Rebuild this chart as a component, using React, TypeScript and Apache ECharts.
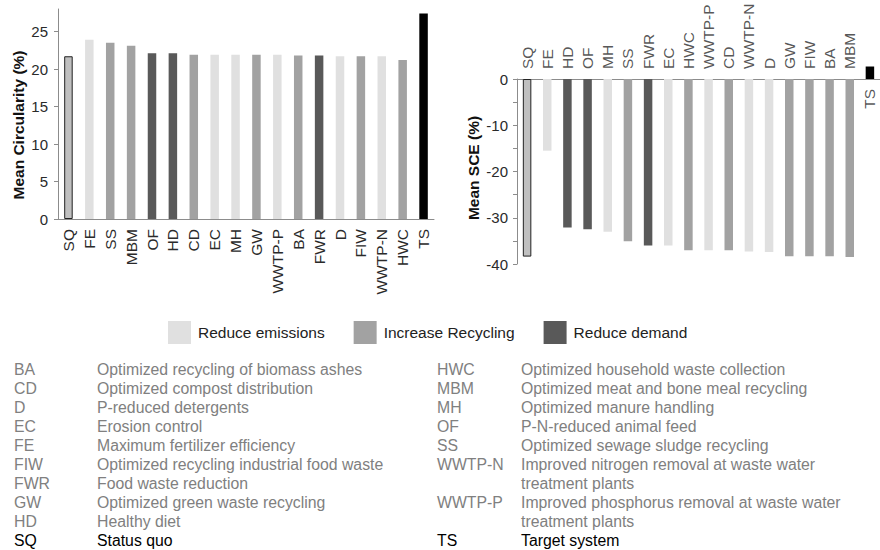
import React, { useEffect, useRef } from 'react';
import * as echarts from 'echarts';

// ---- Data ----
const circCategories = ['SQ', 'FE', 'SS', 'MBM', 'OF', 'HD', 'CD', 'EC', 'MH', 'GW', 'WWTP-P', 'BA', 'FWR', 'D', 'FIW', 'WWTP-N', 'HWC', 'TS'];
const circValues = [21.7, 23.9, 23.5, 23.1, 22.1, 22.1, 21.9, 21.9, 21.9, 21.9, 21.9, 21.8, 21.8, 21.7, 21.7, 21.7, 21.2, 27.4];
const circTicks = [0, 5, 10, 15, 20, 25];

const sceCategories = ['SQ', 'FE', 'HD', 'OF', 'MH', 'SS', 'FWR', 'EC', 'HWC', 'WWTP-P', 'CD', 'WWTP-N', 'D', 'GW', 'FIW', 'BA', 'MBM', 'TS'];
const sceValues = [-38.4, -15.5, -32.1, -32.5, -33.0, -35.1, -36.0, -36.0, -37.0, -37.0, -37.0, -37.3, -37.4, -38.3, -38.3, -38.3, -38.5, 2.7];

const groupNames = ['Reduce emissions', 'Increase Recycling', 'Reduce demand'];
const emissionMeasures = ['FE', 'EC', 'MH', 'WWTP-P', 'D', 'WWTP-N'];
const recyclingMeasures = ['SS', 'MBM', 'CD', 'GW', 'BA', 'FIW', 'HWC'];
const demandMeasures = ['OF', 'HD', 'FWR'];

const glossaryLeftCodes = ['BA', 'CD', 'D', 'EC', 'FE', 'FIW', 'FWR', 'GW', 'HD', 'SQ'];
const glossaryLeftTexts = [
  'Optimized recycling of biomass ashes',
  'Optimized compost distribution',
  'P-reduced detergents',
  'Erosion control',
  'Maximum fertilizer efficiency',
  'Optimized recycling industrial food waste',
  'Food waste reduction',
  'Optimized green waste recycling',
  'Healthy diet',
  'Status quo',
];
const glossaryRightCodes = ['HWC', 'MBM', 'MH', 'OF', 'SS', 'WWTP-N', 'WWTP-P', 'TS'];
const glossaryRightTexts = [
  'Optimized household waste collection',
  'Optimized meat and bone meal recycling',
  'Optimized manure handling',
  'P-N-reduced animal feed',
  'Optimized sewage sludge recycling',
  'Improved nitrogen removal at waste water\ntreatment plants',
  'Improved phosphorus removal at waste water\ntreatment plants',
  'Target system',
];
const referenceCodes = ['SQ', 'TS'];

// ---- Styles ----
const FONT = '"Liberation Sans", Arial, sans-serif';
const groupColors = ['#e0e0e0', '#a2a2a2', '#595959'];
const AXIS_COLOR = '#8c8c8c';
const LABEL_COLOR = '#2a2a2a';
const GLOSS_GRAY = '#808080';

function itemStyleFor(code: string) {
  if (code === 'SQ') return { color: '#c0c0c0', borderColor: '#222', borderWidth: 1 };
  if (code === 'TS') return { color: '#000000' };
  if (emissionMeasures.includes(code)) return { color: groupColors[0] };
  if (recyclingMeasures.includes(code)) return { color: groupColors[1] };
  if (demandMeasures.includes(code)) return { color: groupColors[2] };
  return { color: '#999' };
}

function buildGlossary(codes: string[], texts: string[], codeX: number, textX: number) {
  const els: any[] = [];
  let row = 0;
  const top = 369;
  const step = 19;
  codes.forEach((code, i) => {
    const isRef = referenceCodes.includes(code);
    const fill = isRef ? '#000' : GLOSS_GRAY;
    const y = top + row * step;
    els.push({
      type: 'text', x: codeX, y, silent: true,
      style: { text: code, font: `15.8px ${FONT}`, fill, verticalAlign: 'middle', align: 'left' },
    });
    els.push({
      type: 'text', x: textX, y: y - step / 2, silent: true,
      style: { text: texts[i], font: `15.8px ${FONT}`, fill, verticalAlign: 'top', align: 'left', lineHeight: step },
    });
    row += texts[i].split('\n').length;
  });
  return els;
}

export default function App() {
  const ref = useRef<HTMLDivElement>(null);

  useEffect(() => {
    document.body.style.margin = '0';
    if (!ref.current) return;
    const chart = echarts.init(ref.current, undefined, { renderer: 'svg' });

    const option: any = {
      animation: false,
      textStyle: { fontFamily: FONT },
      grid: [
        { left: 58, right: 446, top: 9, bottom: 331, containLabel: false },
        { left: 517, right: -5, top: 79, bottom: 286, containLabel: false },
      ],
      legend: {
        left: 163,
        top: 316,
        icon: 'rect',
        itemWidth: 23,
        itemHeight: 23,
        itemGap: 29,
        selectedMode: false,
        data: groupNames,
        textStyle: { fontSize: 15.5, color: '#222', fontFamily: FONT, padding: [0, 0, 0, 2] },
      },
      xAxis: [
        {
          type: 'category', gridIndex: 0, data: circCategories,
          axisLine: { lineStyle: { color: AXIS_COLOR } },
          axisTick: { length: 4, lineStyle: { color: AXIS_COLOR } },
          axisLabel: { rotate: 90, margin: 10, fontSize: 15.5, color: LABEL_COLOR, interval: 0 },
        },
        {
          type: 'category', gridIndex: 1, data: sceCategories, position: 'bottom',
          axisLine: { onZero: true, lineStyle: { color: AXIS_COLOR } },
          axisTick: { length: 4, lineStyle: { color: AXIS_COLOR } },
          axisLabel: { show: false },
        },
      ],
      yAxis: [
        {
          type: 'value', gridIndex: 0, min: 0, max: 28, interval: 5,
          splitLine: { show: false },
          axisLine: { show: true, lineStyle: { color: AXIS_COLOR } },
          axisTick: { show: true, length: 4, lineStyle: { color: AXIS_COLOR }, customValues: circTicks },
          axisLabel: { fontSize: 15, color: LABEL_COLOR, margin: 10, customValues: circTicks },
        },
        {
          type: 'value', gridIndex: 1, min: -40, max: 0, interval: 10,
          splitLine: { show: false },
          axisLine: { show: true, lineStyle: { color: AXIS_COLOR } },
          axisTick: { show: true, length: 4, lineStyle: { color: AXIS_COLOR } },
          minorTick: { show: true, splitNumber: 2, length: 4, lineStyle: { color: AXIS_COLOR } },
          axisLabel: { fontSize: 15, color: LABEL_COLOR, margin: 9 },
        },
      ],
      series: [
        {
          type: 'bar', name: 'circularity', xAxisIndex: 0, yAxisIndex: 0, barWidth: 8.5, silent: true,
          data: circValues.map((v, i) => ({ value: v, itemStyle: itemStyleFor(circCategories[i]) })),
        },
        {
          type: 'bar', name: 'sce', xAxisIndex: 1, yAxisIndex: 1, barWidth: 8.5, silent: true, clip: false,
          data: sceValues.map((v, i) => ({ value: v, itemStyle: itemStyleFor(sceCategories[i]) })),
        },
        {
          type: 'scatter', name: 'sceLabels', xAxisIndex: 1, yAxisIndex: 1, symbolSize: 0, silent: true, clip: false,
          data: sceCategories.map((c, i) => {
            const positive = sceValues[i] >= 0;
            return {
              value: [c, 0],
              label: {
                show: true,
                formatter: c,
                position: positive ? 'bottom' : 'top',
                distance: 10,
                rotate: 90,
                align: positive ? 'right' : 'left',
                verticalAlign: 'middle',
                fontSize: 15.5,
                color: LABEL_COLOR,
                fontFamily: FONT,
              },
            };
          }),
        },
        ...groupNames.map((g, i) => ({
          type: 'line', name: g, xAxisIndex: 0, yAxisIndex: 0, data: [],
          itemStyle: { color: groupColors[i] }, lineStyle: { color: groupColors[i] },
        })),
      ],
      graphic: [
        {
          type: 'text', x: 18, y: 125, rotation: Math.PI / 2, silent: true,
          style: { text: 'Mean Circularity (%)', font: `bold 15.5px ${FONT}`, fill: '#111', align: 'center', verticalAlign: 'middle' },
        },
        {
          type: 'text', x: 473, y: 168, rotation: Math.PI / 2, silent: true,
          style: { text: 'Mean SCE (%)', font: `bold 15.5px ${FONT}`, fill: '#111', align: 'center', verticalAlign: 'middle' },
        },
        ...buildGlossary(glossaryLeftCodes, glossaryLeftTexts, 14, 97),
        ...buildGlossary(glossaryRightCodes, glossaryRightTexts, 437, 521),
      ],
    };

    chart.setOption(option);
    return () => chart.dispose();
  }, []);

  return <div ref={ref} style={{ width: 880, height: 550 }} />;
}
